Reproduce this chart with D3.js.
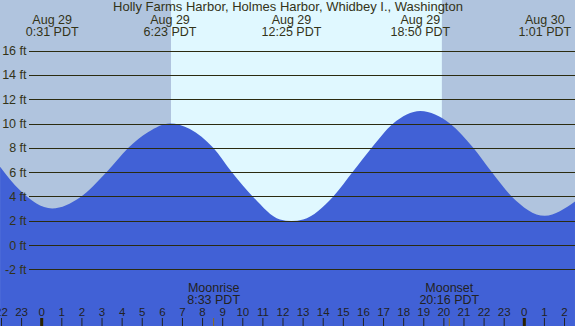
<!DOCTYPE html>
<html>
<head>
<meta charset="utf-8">
<script src="https://cdn.jsdelivr.net/npm/d3@7"></script>
<style>
  body { margin: 0; overflow: hidden; }
  svg { display: block; font-family: "Liberation Sans", Arial, sans-serif; }
</style>
</head>
<body>
<svg></svg>
<script>
const title = 'Holly Farms Harbor, Holmes Harbor, Whidbey I., Washington';

// tide curve, hours from midnight Aug 29, height in ft
const tideHours = [-2.07, -1.08, 0.52, 1.9, 3.23, 4.31, 5.3, 6.38, 7.37, 8.53, 9.45, 10.49, 11.85, 12.42,
  13.0, 14.5, 15.46, 16.41, 17.48, 18.83, 20.3, 21.46, 22.38, 23.37, 25.02, 26.52];
const tideFeet = [6.44, 4.5, 3.0, 3.9, 6.0, 8.0, 9.3, 10.0, 9.55, 8.0, 6.0, 4.0, 2.1, 1.97,
  2.1, 4.0, 6.0, 8.0, 10.0, 11.03, 10.0, 8.0, 6.0, 4.0, 2.4, 3.57];

// high / low tide labels
const extremeHours = [0.52, 6.38, 12.42, 18.83, 25.02];
const extremeDates = ['Aug 29', 'Aug 29', 'Aug 29', 'Aug 29', 'Aug 30'];
const extremeTimes = ['0:31 PDT', '6:23 PDT', '12:25 PDT', '18:50 PDT', '1:01 PDT'];

const sunrise = 6.43;
const sunset = 19.9;

const moonHours = [8.55, 20.27];
const moonNames = ['Moonrise', 'Moonset'];
const moonTimes = ['8:33 PDT', '20:16 PDT'];

const feetTicks = [-2, 0, 2, 4, 6, 8, 10, 12, 14, 16];
const hourTicks = d3.range(-2, 27);

const width = 575;
const height = 326;
const ink = '#333318';

const svg = d3.select('svg')
  .attr('width', width)
  .attr('height', height);

const x = d3.scaleLinear().domain([0, 24]).range([41.7, 524.3]);
const y = d3.scaleLinear().domain([0, 16]).range([245, 50.6]);

// night / day background
svg.append('rect')
  .attr('width', width)
  .attr('height', height)
  .attr('fill', '#b0c4de');

svg.append('rect')
  .attr('x', x(sunrise))
  .attr('width', x(sunset) - x(sunrise))
  .attr('height', height)
  .attr('fill', '#e0f8ff');

// tide
const area = d3.area()
  .x((d, i) => x(tideHours[i]))
  .y0(height)
  .y1(d => y(d))
  .curve(d3.curveMonotoneX);

svg.append('path')
  .datum(tideFeet)
  .attr('d', area)
  .attr('fill', '#4161d6');

// grid lines + ft labels
const grid = svg.append('g').attr('class', 'grid');

grid.selectAll('line')
  .data(feetTicks)
  .enter().append('line')
    .attr('x1', 29)
    .attr('x2', width)
    .attr('y1', d => Math.round(y(d)) + 0.5)
    .attr('y2', d => Math.round(y(d)) + 0.5)
    .attr('stroke', '#2b2b10')
    .attr('stroke-width', 1);

grid.selectAll('text')
  .data(feetTicks)
  .enter().append('text')
    .attr('x', 26.5)
    .attr('y', d => y(d) + 4.5)
    .attr('text-anchor', 'end')
    .attr('font-size', 12.5)
    .attr('fill', ink)
    .text(d => d + ' ft');

// title and extremes
svg.append('text')
  .attr('x', 288)
  .attr('y', 11)
  .attr('text-anchor', 'middle')
  .attr('font-size', 13)
  .attr('fill', ink)
  .text(title);

const ext = svg.append('g').selectAll('g')
  .data(extremeHours)
  .enter().append('g')
    .attr('transform', d => 'translate(' + x(d) + ',0)');

ext.append('text')
  .attr('y', 24)
  .attr('text-anchor', 'middle')
  .attr('font-size', 12.5)
  .attr('fill', ink)
  .text((d, i) => extremeDates[i]);

ext.append('text')
  .attr('y', 36)
  .attr('text-anchor', 'middle')
  .attr('font-size', 12.5)
  .attr('fill', ink)
  .text((d, i) => extremeTimes[i]);

// hour axis
const hours = svg.append('g').selectAll('g')
  .data(hourTicks)
  .enter().append('g')
    .attr('transform', d => 'translate(' + x(d) + ',0)');

hours.append('text')
  .attr('y', 316)
  .attr('text-anchor', 'middle')
  .attr('font-size', 11.5)
  .attr('fill', '#222222')
  .text(d => ((d % 24) + 24) % 24);

hours.append('rect')
  .attr('x', d => (d % 24 === 0) ? -1.5 : -0.5)
  .attr('y', 318)
  .attr('width', d => (d % 24 === 0) ? 3 : 1)
  .attr('height', 8)
  .attr('fill', d => (d % 24 === 0) ? '#2a2200' : '#222222');

// moon
const moon = svg.append('g').selectAll('g')
  .data(moonHours)
  .enter().append('g')
    .attr('transform', d => 'translate(' + x(d) + ',0)');

moon.append('text')
  .attr('y', 292)
  .attr('text-anchor', 'middle')
  .attr('font-size', 12.5)
  .attr('fill', '#222222')
  .text((d, i) => moonNames[i]);

moon.append('text')
  .attr('y', 304)
  .attr('text-anchor', 'middle')
  .attr('font-size', 12.5)
  .attr('fill', '#222222')
  .text((d, i) => moonTimes[i]);

moon.append('rect')
  .attr('x', -0.5)
  .attr('y', 318)
  .attr('width', 1)
  .attr('height', 8)
  .attr('fill', '#8a6a1a');
</script>
</body>
</html>
